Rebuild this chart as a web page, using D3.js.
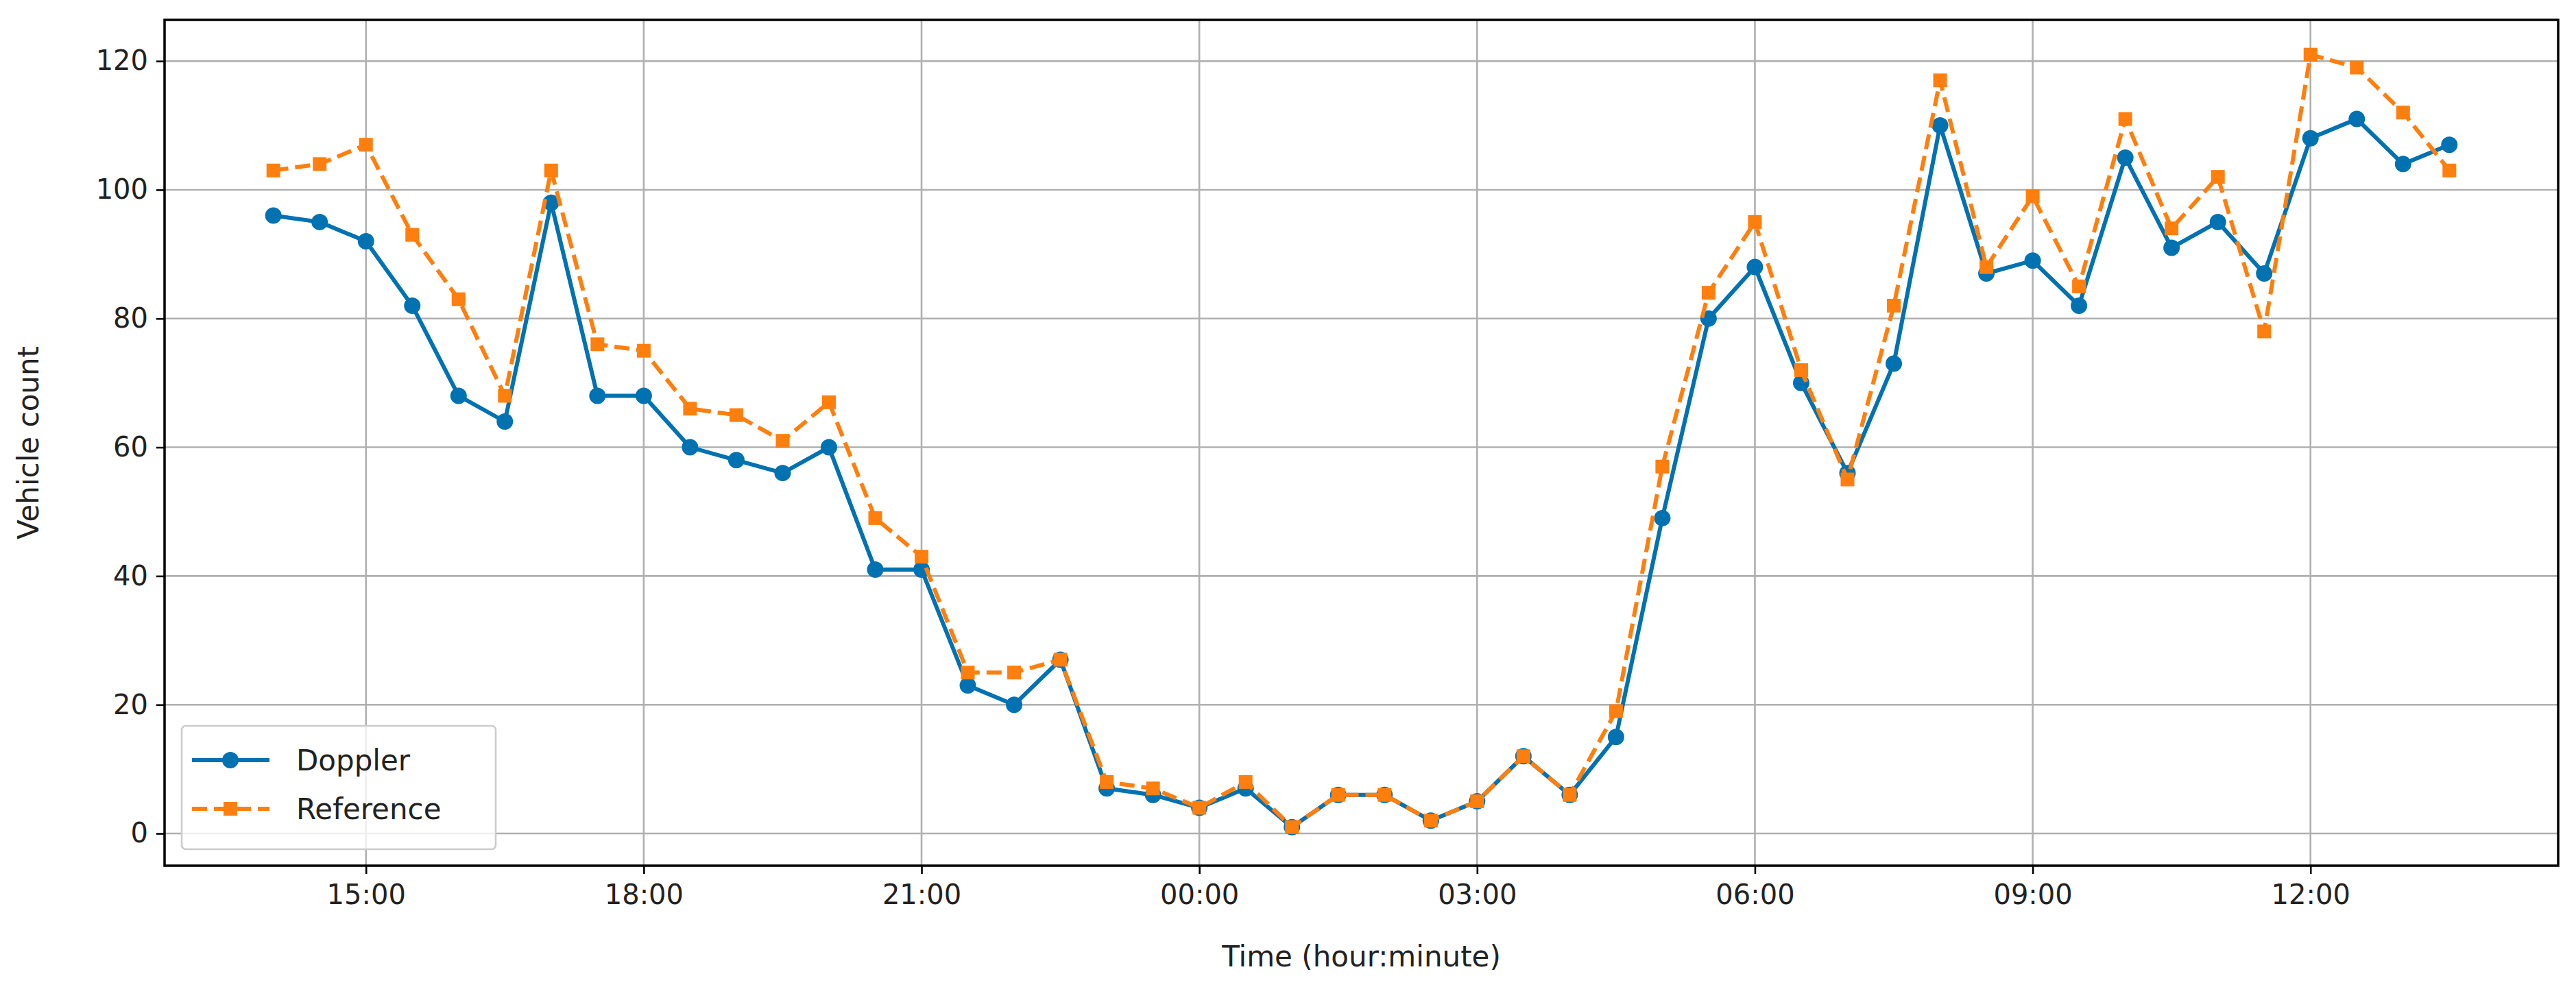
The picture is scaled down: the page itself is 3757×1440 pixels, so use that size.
<!DOCTYPE html>
<html>
<head>
<meta charset="utf-8">
<script src="https://cdn.jsdelivr.net/npm/d3@7"></script>
<style>
  body { margin: 0; background: #fff; }
  text { font-family: "DejaVu Sans", sans-serif; fill: #222; }
</style>
</head>
<body>
<svg id="chart"></svg>
<script>
// 30-minute samples starting 14:00
var startTime = new Date(2020, 0, 1, 14, 0);
var dopplerCounts = [96, 95, 92, 82, 68, 64, 98, 68, 68, 60, 58, 56, 60, 41, 41, 23, 20, 27,
  7, 6, 4, 7, 1, 6, 6, 2, 5, 12, 6, 15, 49, 80, 88, 70, 56, 73, 110, 87, 89, 82, 105, 91, 95,
  87, 108, 111, 104, 107];
var referenceCounts = [103, 104, 107, 93, 83, 68, 103, 76, 75, 66, 65, 61, 67, 49, 43, 25, 25, 27,
  8, 7, 4, 8, 1, 6, 6, 2, 5, 12, 6, 19, 57, 84, 95, 72, 55, 82, 117, 88, 99, 85, 111, 94, 102,
  78, 121, 119, 112, 103];
var yTicks = [0, 20, 40, 60, 80, 100, 120];
var xTickHours = [15, 18, 21, 24, 27, 30, 33, 36];

var W = 3757, H = 1440;
var dim = { left: 240, right: 3731, top: 29, bottom: 1263 };

var times = dopplerCounts.map(function(d, i) { return new Date(startTime.getTime() + i * 30 * 60000); });
var span = times[times.length - 1] - times[0];

var svg = d3.select("#chart").attr("width", W).attr("height", H);

var x = d3.scaleTime()
  .domain([new Date(times[0].getTime() - span * 0.05), new Date(times[times.length - 1].getTime() + span * 0.05)])
  .range([dim.left, dim.right]);
var y = d3.scaleLinear().domain([-5, 126.4]).range([dim.bottom, dim.top]);

var xTicks = xTickHours.map(function(h) { return new Date(2020, 0, 1, h, 0); });

// grid
svg.append("g").selectAll("line").data(xTicks).enter().append("line")
  .attr("x1", function(d) { return x(d); }).attr("x2", function(d) { return x(d); })
  .attr("y1", dim.top).attr("y2", dim.bottom)
  .attr("stroke", "#b0b0b0").attr("stroke-width", 2.6);
svg.append("g").selectAll("line").data(yTicks).enter().append("line")
  .attr("x1", dim.left).attr("x2", dim.right)
  .attr("y1", function(d) { return y(d); }).attr("y2", function(d) { return y(d); })
  .attr("stroke", "#b0b0b0").attr("stroke-width", 2.6);

// axes
var xAxis = svg.append("g").attr("transform", "translate(0," + dim.bottom + ")")
  .call(d3.axisBottom(x).tickValues(xTicks).tickFormat(d3.timeFormat("%H:%M")).tickSize(12).tickPadding(16));
var yAxis = svg.append("g").attr("transform", "translate(" + dim.left + ",0)")
  .call(d3.axisLeft(y).tickValues(yTicks).tickSize(12).tickPadding(12));
[xAxis, yAxis].forEach(function(a) {
  a.select(".domain").remove();
  a.selectAll("line").attr("stroke", "#000").attr("stroke-width", 2.6);
  a.selectAll("text").style("font-size", "40px").style("font-family", "DejaVu Sans").attr("fill", "#222");
});

svg.append("rect")
  .attr("x", dim.left).attr("y", dim.top)
  .attr("width", dim.right - dim.left).attr("height", dim.bottom - dim.top)
  .attr("fill", "none").attr("stroke", "#000").attr("stroke-width", 3.5);

svg.append("text").attr("x", (dim.left + dim.right) / 2).attr("y", 1410)
  .attr("text-anchor", "middle").style("font-size", "42px").text("Time (hour:minute)");
svg.append("text").attr("transform", "translate(56," + (dim.top + dim.bottom) / 2 + ") rotate(-90)")
  .attr("text-anchor", "middle").style("font-size", "42px").text("Vehicle count");

var line = d3.line().x(function(d, i) { return x(times[i]); }).y(function(d) { return y(d); });

var blue = "#0072b2", orange = "#ff7f0e";

svg.append("path").datum(dopplerCounts).attr("d", line)
  .attr("fill", "none").attr("stroke", blue).attr("stroke-width", 6);
svg.append("g").selectAll("circle").data(dopplerCounts).enter().append("circle")
  .attr("cx", function(d, i) { return x(times[i]); }).attr("cy", function(d) { return y(d); })
  .attr("r", 12).attr("fill", blue);

svg.append("path").datum(referenceCounts).attr("d", line)
  .attr("fill", "none").attr("stroke", orange).attr("stroke-width", 6)
  .attr("stroke-dasharray", "22,10");
svg.append("g").selectAll("rect").data(referenceCounts).enter().append("rect")
  .attr("x", function(d, i) { return x(times[i]) - 10; }).attr("y", function(d) { return y(d) - 10; })
  .attr("width", 20).attr("height", 20).attr("fill", orange);

// legend
var lg = svg.append("g");
lg.append("rect").attr("x", 265).attr("y", 1059).attr("width", 458).attr("height", 180)
  .attr("rx", 6).attr("fill", "#fff").attr("fill-opacity", 0.8).attr("stroke", "#ccc").attr("stroke-width", 2.6);
lg.append("line").attr("x1", 280).attr("x2", 393).attr("y1", 1109).attr("y2", 1109)
  .attr("stroke", blue).attr("stroke-width", 6);
lg.append("circle").attr("cx", 336).attr("cy", 1109).attr("r", 12).attr("fill", blue);
lg.append("line").attr("x1", 280).attr("x2", 393).attr("y1", 1180).attr("y2", 1180)
  .attr("stroke", orange).attr("stroke-width", 6).attr("stroke-dasharray", "22,10");
lg.append("rect").attr("x", 326).attr("y", 1170).attr("width", 20).attr("height", 20).attr("fill", orange);
lg.append("text").attr("x", 432).attr("y", 1124).style("font-size", "42px").text("Doppler");
lg.append("text").attr("x", 432).attr("y", 1195).style("font-size", "42px").text("Reference");
</script>
</body>
</html>
